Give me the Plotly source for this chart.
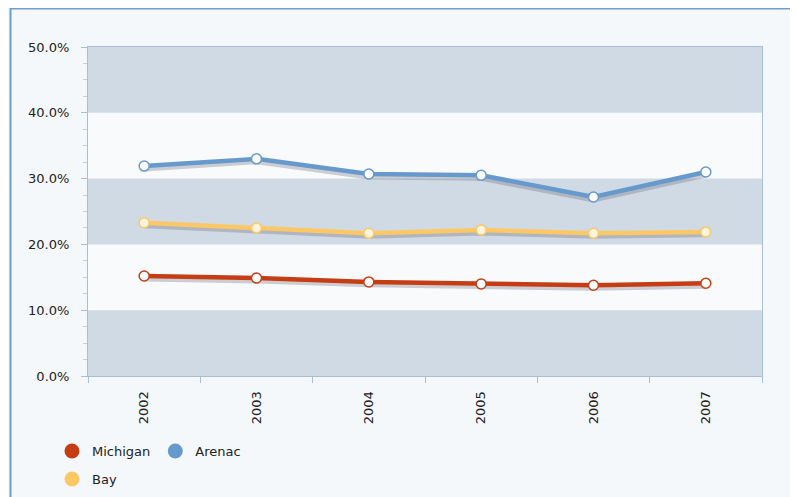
import plotly.graph_objects as go

years = ["2002", "2003", "2004", "2005", "2006", "2007"]
michigan = [15.2, 14.9, 14.3, 14.0, 13.8, 14.1]
arenac = [31.9, 33.0, 30.7, 30.5, 27.2, 31.0]
bay = [23.3, 22.5, 21.7, 22.2, 21.7, 21.9]

series = [
    ("Michigan", michigan, "#c63d14", "#ffffff"),
    ("Arenac", arenac, "#6699cc", "#ffffff"),
    ("Bay", bay, "#fcc866", "#fff5dc"),
]
y_ticks = [0, 10, 20, 30, 40, 50]
y_labels = [f"{v:.1f}%" for v in y_ticks]

# the page body adds an 8px offset
W, H = 790, 489
L, R, T, B = 80, 36, 39, 121
pw, ph = W - L - R, H - T - B

fig = go.Figure()

# soft drop shadows
for name, vals, col, fill in series:
    fig.add_trace(go.Scatter(
        x=years, y=[v - 0.45 for v in vals], mode="lines",
        line=dict(color="rgba(90,90,105,0.28)", width=5),
        showlegend=False, hoverinfo="skip"))

for name, vals, col, fill in series:
    fig.add_trace(go.Scatter(
        x=years, y=vals, mode="lines+markers", name=name,
        line=dict(color=col, width=4.5),
        marker=dict(size=10, color=fill, line=dict(color=col, width=1.5)),
        showlegend=False))

# legend entries (filled circles)
for i, (name, vals, col, fill) in enumerate(series):
    fig.add_trace(go.Scatter(
        x=[None], y=[None], mode="markers", name=name,
        marker=dict(size=15, color=col),
        legend="legend" if i < 2 else "legend2"))

shapes = []
for i in range(0, len(y_ticks) - 1):
    if i % 2 == 0:
        shapes.append(dict(type="rect", xref="paper", yref="y", x0=0, x1=1,
                           y0=y_ticks[i], y1=y_ticks[i + 1],
                           fillcolor="#d0dae5", line=dict(width=0), layer="below"))
# outer frame
shapes.append(dict(type="rect", xref="paper", yref="paper",
                   x0=(2.5 - L) / pw, x1=(W + 30 - L) / pw,
                   y0=-(H + 30 - (T + ph)) / ph, y1=(T + ph - 0.5) / ph,
                   line=dict(color="#6b9fd3", width=2), fillcolor="rgba(0,0,0,0)",
                   layer="above"))

font = dict(family="DejaVu Sans", size=13, color="#222222")

leg_x = (44 - L) / pw
fig.update_layout(
    width=W, height=H,
    margin=dict(l=L, r=R, t=T, b=B, autoexpand=False),
    paper_bgcolor="#f5f8fb",
    plot_bgcolor="#f8fafc",
    font=font,
    shapes=shapes,
    showlegend=True,
    legend=dict(orientation="h", x=leg_x, xanchor="left",
                y=-(428 - (T + ph)) / ph, yanchor="top",
                bgcolor="rgba(0,0,0,0)", font=font, itemclick=False),
    legend2=dict(orientation="h", x=leg_x, xanchor="left",
                 y=-(456 - (T + ph)) / ph, yanchor="top",
                 bgcolor="rgba(0,0,0,0)", font=font, itemclick=False),
)

fig.update_yaxes(
    range=[0, 50], tickvals=y_ticks, ticktext=y_labels,
    showgrid=False, zeroline=False,
    showline=True, linecolor="#a9bfd8", linewidth=1, mirror=True,
    ticks="outside", ticklen=6, tickcolor="#a9bfd8", ticklabelstandoff=9,
    minor=dict(dtick=2.5, ticks="outside", ticklen=4, tickcolor="#c3d1e0", showgrid=False),
    tickfont=font, fixedrange=True,
)
fig.update_xaxes(
    type="category", range=[-0.5, 5.5], tickson="boundaries",
    showgrid=False, zeroline=False,
    showline=True, linecolor="#a9bfd8", linewidth=1, mirror=True,
    ticks="outside", ticklen=6, tickcolor="#a9bfd8", ticklabelstandoff=9,
    tickangle=-90, tickfont=font, fixedrange=True,
)

fig.write_html("out.html")
